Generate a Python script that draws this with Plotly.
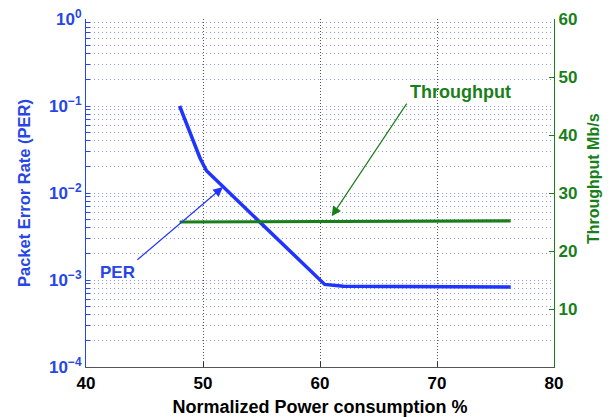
import math
import plotly.graph_objects as go

# ---- data ----
per_x = [48.0, 49.75, 50.3, 60.4, 62.0, 76.3]
per_y = [0.1, 0.0251, 0.018, 8.9e-4, 8.5e-4, 8.3e-4]

tp_x = [48.0, 76.3]
tp_y = [25.0, 25.2]

x_ticks = [40, 50, 60, 70, 80]
y2_ticks = [10, 20, 30, 40, 50, 60]
decades = [-4, -3, -2, -1, 0]

BLUE_LINE = "#1f35ff"
BLUE_TXT = "#2746e6"
GREEN = "#1a7f1a"
FONT = "Liberation Sans"

# log tick values: every 1..9 x 10^k, labels only at decades
y_tickvals, y_ticktext = [], []
for k in decades:
    for m in range(1, 10):
        if k == 0 and m > 1:
            break
        y_tickvals.append(m * 10.0 ** k)
        if m == 1:
            y_ticktext.append("10<sup>0</sup>" if k == 0 else f"10<sup>\u2212{-k}</sup>")
        else:
            y_ticktext.append("")

fig = go.Figure()
fig.add_trace(go.Scatter(x=tp_x, y=tp_y, mode="lines", yaxis="y2",
                         line=dict(color=GREEN, width=3.2), showlegend=False))
fig.add_trace(go.Scatter(x=per_x, y=per_y, mode="lines", yaxis="y",
                         line=dict(color=BLUE_LINE, width=3.5), showlegend=False))

fig.update_layout(
    width=613, height=417,
    margin=dict(l=86, r=59, t=19, b=50, autoexpand=False),
    plot_bgcolor="white", paper_bgcolor="white",
    font=dict(family=FONT, size=16, weight="bold"),
    xaxis=dict(
        range=[40, 80], tickvals=x_ticks, ticks="inside", ticklen=5, automargin=False,
        tickcolor="#333", showline=True, linecolor="#555", linewidth=1.2,
        showgrid=True, gridcolor="#555", griddash="1px,2px", gridwidth=1,
        zeroline=False, tickfont=dict(color="black", size=17, family=FONT, weight="bold"),
        title=dict(text="Normalized Power consumption %", standoff=12,
                   font=dict(color="black", size=18, family=FONT, weight="bold")),
    ),
    yaxis=dict(
        type="log", range=[-4, 0], tickvals=y_tickvals, ticktext=y_ticktext, automargin=False,
        ticks="inside", ticklen=4, tickcolor=BLUE_TXT,
        showline=True, linecolor=BLUE_TXT, linewidth=1.2,
        showgrid=True, gridcolor="rgba(80,100,225,0.65)", griddash="1px,3px", gridwidth=1,
        zeroline=False, tickfont=dict(color=BLUE_TXT, size=17, family=FONT, weight="bold"),
        title=dict(text="Packet Error Rate (PER)", standoff=14,
                   font=dict(color=BLUE_TXT, size=16.5, family=FONT, weight="bold")),
    ),
    yaxis2=dict(
        overlaying="y", side="right", range=[0, 60], tickvals=y2_ticks, automargin=False,
        ticks="inside", ticklen=5, tickcolor=GREEN,
        showline=True, linecolor=GREEN, linewidth=1.2, showgrid=False, zeroline=False,
        tickfont=dict(color=GREEN, size=17, family=FONT, weight="bold"),
    ),
)

# right axis title (placed to match reference)
fig.add_annotation(text="Throughput Mb/s", xref="paper", yref="paper",
                   x=1.0, xshift=39, xanchor="center", yanchor="middle",
                   y=0.54, textangle=-90, showarrow=False,
                   font=dict(color=GREEN, size=16, family=FONT, weight="bold"))

# Throughput label and arrow
fig.add_annotation(text="Throughput", x=72.05, y=47.4, xref="x", yref="y2",
                   showarrow=False, font=dict(color=GREEN, size=18, family=FONT, weight="bold"))
fig.add_annotation(text="", x=61.0, y=26.0, xref="x", yref="y2",
                   ax=76, ay=-114, axref="pixel", ayref="pixel",
                   showarrow=True, arrowhead=2, arrowsize=1.6, arrowwidth=1.2, arrowcolor=GREEN)

# PER label and arrow
fig.add_annotation(text="PER", x=42.65, y=math.log10(1.23e-3), xref="x", yref="y",
                   showarrow=False, font=dict(color=BLUE_TXT, size=17, family=FONT, weight="bold"))
fig.add_annotation(text="", x=51.7, y=math.log10(0.0117), xref="x", yref="y",
                   ax=-87, ay=74, axref="pixel", ayref="pixel",
                   showarrow=True, arrowhead=2, arrowsize=1.6, arrowwidth=1.2, arrowcolor=BLUE_LINE)

fig.write_html("out.html")
